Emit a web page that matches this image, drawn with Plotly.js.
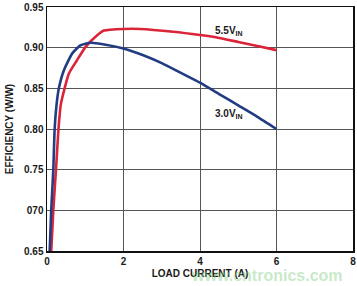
<!DOCTYPE html>
<html><head><meta charset="utf-8">
<script src="https://cdn.plot.ly/plotly-3.0.1.min.js"></script>
<style>html,body{margin:0;padding:0;background:#fff}#c{width:357px;height:286px}</style>
</head><body><div id="c"></div>
<script>
const x30 = [0.07, 0.11, 0.165, 0.20, 0.25, 0.31, 0.44, 0.66, 0.88, 1.14, 1.5, 2.0, 2.5, 3.0, 3.5, 4.0, 4.5, 5.0, 5.5, 6.0];
const y30 = [0.65, 0.70, 0.75, 0.80, 0.83, 0.85, 0.872, 0.893, 0.903, 0.906, 0.904, 0.899, 0.891, 0.881, 0.869, 0.857, 0.843, 0.829, 0.815, 0.800];
const x55 = [0.11, 0.165, 0.235, 0.30, 0.36, 0.46, 0.57, 0.79, 1.01, 1.32, 1.49, 2.0, 2.43, 3.3, 4.0, 4.5, 5.0, 5.5, 6.0];
const y55 = [0.65, 0.70, 0.75, 0.80, 0.83, 0.85, 0.868, 0.885, 0.901, 0.9155, 0.921, 0.923, 0.923, 0.9196, 0.9155, 0.912, 0.907, 0.902, 0.897];
const yTickVals = [0.65, 0.70, 0.75, 0.80, 0.85, 0.90, 0.95];
const yTickText = ['0.65', '070', '0.75', '0.80', '0.85', '0.90', '0.95'];
const xTickVals = [0, 2, 4, 6, 8];
const xTickText = ['0', '2', '4', '6', '8'];

const F = {family: 'Liberation Sans, Arial, sans-serif', size: 10, color: '#1a1a1a', weight: 'bold'};
const data = [
  {x: x55, y: y55, mode: 'lines', line: {color: '#dc2439', width: 2.6, shape: 'spline', smoothing: 0.5}, hoverinfo: 'none'},
  {x: x30, y: y30, mode: 'lines', line: {color: '#223c84', width: 2.6, shape: 'spline', smoothing: 0.5}, hoverinfo: 'none'}
];
const layout = {
  width: 357, height: 286,
  margin: {l: 47, r: 4, t: 7, b: 35},
  paper_bgcolor: '#fff', plot_bgcolor: '#fff',
  showlegend: false,
  font: F,
  xaxis: {range: [0, 8], tickvals: xTickVals, ticktext: xTickText, showgrid: true, gridcolor: '#555', gridwidth: 1,
    zeroline: false, showline: true, linecolor: '#111', linewidth: 1.5, mirror: true, ticks: '', tickfont: F,
    title: {text: 'LOAD CURRENT (A)', font: F, standoff: 4}},
  yaxis: {range: [0.65, 0.95], tickvals: yTickVals, ticktext: yTickText, showgrid: true, gridcolor: '#555', gridwidth: 1,
    zeroline: false, showline: true, linecolor: '#111', linewidth: 1.5, mirror: true, ticks: '', tickfont: F,
    title: {text: 'EFFICIENCY (W/W)', font: F, standoff: 8}},
  annotations: [
    {x: 4.34, y: 0.9205, xanchor: 'left', yanchor: 'middle', showarrow: false, text: '5.5V<sub>IN</sub>', font: F},
    {x: 4.34, y: 0.818, xanchor: 'left', yanchor: 'middle', showarrow: false, text: '3.0V<sub>IN</sub>', font: F},
    {xref: 'paper', yref: 'paper', x: 0.72, y: -0.10, xanchor: 'center', yanchor: 'middle', showarrow: false, borderpad: 0,
     text: 'www.cntronics.com', font: {family: 'Liberation Sans, Arial, sans-serif', size: 16, color: 'rgba(130,205,130,0.45)'}}
  ]
};
Plotly.newPlot('c', data, layout, {staticPlot: true, displayModeBar: false});
</script></body></html>
